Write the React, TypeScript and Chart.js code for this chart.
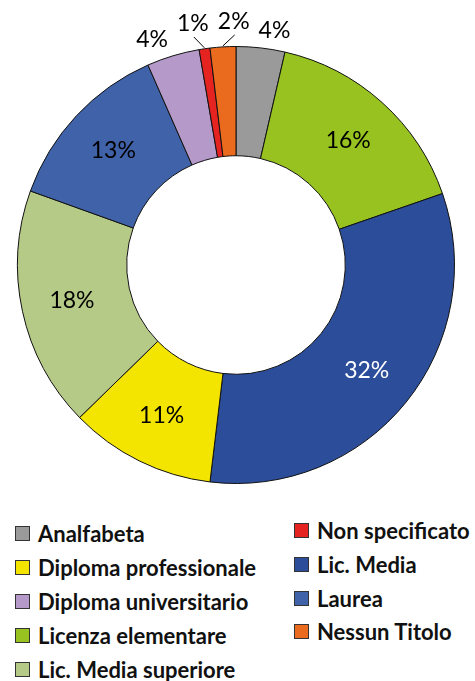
import React, { useEffect, useRef } from "react";
import { Chart, ArcElement, DoughnutController } from "chart.js";

Chart.register(ArcElement, DoughnutController);

// Slice order (clockwise from 12 o'clock)
const categories = [
  "Analfabeta",
  "Licenza elementare",
  "Lic. Media",
  "Diploma professionale",
  "Lic. Media superiore",
  "Laurea",
  "Diploma universitario",
  "Non specificato",
  "Nessun Titolo",
];
const shares = [3.6, 16.1, 32.2, 10.8, 17.8, 12.9, 3.9, 0.8, 1.9];
const colors = [
  "#9a9a9a",
  "#97c21f",
  "#2c4d9a",
  "#f4e500",
  "#b6ca87",
  "#4062a8",
  "#b499c9",
  "#e52421",
  "#ea6a1e",
];
const labelColors = ["#000", "#000", "#fff", "#000", "#000", "#000", "#000", "#000", "#000"];

// Legend (two columns)
const legendLeft = [
  "Analfabeta",
  "Diploma professionale",
  "Diploma universitario",
  "Licenza elementare",
  "Lic. Media superiore",
];
const legendRight = ["Non specificato", "Lic. Media", "Laurea", "Nessun Titolo"];

const LABEL_FONT = "23px Lato";

const labelPlugin = {
  id: "sliceLabels",
  afterDatasetsDraw(chart: any) {
    const ctx = chart.ctx as CanvasRenderingContext2D;
    const meta = chart.getDatasetMeta(0);
    const total = shares.reduce((a, b) => a + b, 0);
    ctx.save();
    ctx.font = LABEL_FONT;
    ctx.textAlign = "center";
    ctx.textBaseline = "middle";
    const outside: any[] = [];
    meta.data.forEach((arc: any, i: number) => {
      const p = arc.getProps(["x", "y", "startAngle", "endAngle", "innerRadius", "outerRadius"], true);
      const mid = (p.startAngle + p.endAngle) / 2;
      const pct = (shares[i] / total) * 100;
      const text = Math.round(pct) + "%";
      const w = ctx.measureText(text).width;
      if (pct >= 5) {
        const r = (p.innerRadius + p.outerRadius) / 2 + 4;
        ctx.fillStyle = labelColors[i];
        ctx.fillText(text, p.x + Math.cos(mid) * r, p.y + Math.sin(mid) * r);
      } else {
        const leader = pct < 2.5;
        const r = p.outerRadius + (leader ? 25 : 17);
        outside.push({
          text,
          w,
          leader,
          tx: p.x + Math.cos(mid) * r,
          ty: p.y + Math.sin(mid) * r,
          ax: p.x + Math.cos(mid) * (p.outerRadius + 1),
          ay: p.y + Math.sin(mid) * (p.outerRadius + 1),
          color: labelColors[i],
        });
      }
    });
    outside.sort((a, b) => a.tx - b.tx);
    for (let it = 0; it < 40; it++) {
      for (let k = 1; k < outside.length; k++) {
        const a = outside[k - 1];
        const b = outside[k];
        if (Math.abs(a.ty - b.ty) > 20) continue;
        const need = (a.w + b.w) / 2 + 9;
        const have = b.tx - a.tx;
        if (have < need) {
          const d = (need - have) / 2;
          a.tx -= d;
          b.tx += d;
        }
      }
    }
    outside.forEach((o) => {
      if (o.leader) {
        ctx.strokeStyle = "#000";
        ctx.lineWidth = 1;
        ctx.beginPath();
        ctx.moveTo(o.tx + 1, o.ty + 13);
        ctx.lineTo(o.ax, o.ay);
        ctx.stroke();
      }
      ctx.fillStyle = o.color;
      ctx.fillText(o.text, o.tx, o.ty);
    });
    ctx.restore();
  },
};

function LegendColumn({ names, left, top, row }: { names: string[]; left: number; top: number; row: number }) {
  return (
    <div
      style={{
        position: "absolute",
        left,
        top,
        fontFamily: "Lato",
        fontWeight: 700,
        fontSize: 22,
        color: "#111",
      }}
    >
      {names.map((name) => (
        <div key={name} style={{ display: "flex", alignItems: "center", whiteSpace: "nowrap", height: row }}>
          <span
            style={{
              display: "inline-block",
              width: 13,
              height: 13,
              background: colors[categories.indexOf(name)],
              border: "1px solid #333",
              marginRight: 8,
              flex: "none",
            }}
          />
          <span>{name}</span>
        </div>
      ))}
    </div>
  );
}

export default function App() {
  const ref = useRef<HTMLCanvasElement | null>(null);
  useEffect(() => {
    if (!ref.current) return;
    const chart = new Chart(ref.current, {
      type: "doughnut",
      data: {
        labels: categories,
        datasets: [
          {
            data: shares,
            backgroundColor: colors,
            borderColor: "#111",
            borderWidth: 1,
            borderJoinStyle: "miter" as any,
          },
        ],
      },
      options: {
        responsive: false,
        animation: false,
        cutout: "50%",
        layout: { padding: { left: 17, right: 20, top: 46, bottom: 16 } },
        plugins: { legend: { display: false }, tooltip: { enabled: false } } as any,
      },
      plugins: [labelPlugin],
    });
    return () => chart.destroy();
  }, []);

  return (
    <div style={{ position: "absolute", left: 0, top: 0, width: 475, height: 681, background: "#fff" }}>
      <canvas ref={ref} width={475} height={500} style={{ position: "absolute", left: 0, top: 0 }} />
      <LegendColumn names={legendLeft} left={15} top={516} row={34} />
      <LegendColumn names={legendRight} left={294} top={514} row={33.7} />
    </div>
  );
}
